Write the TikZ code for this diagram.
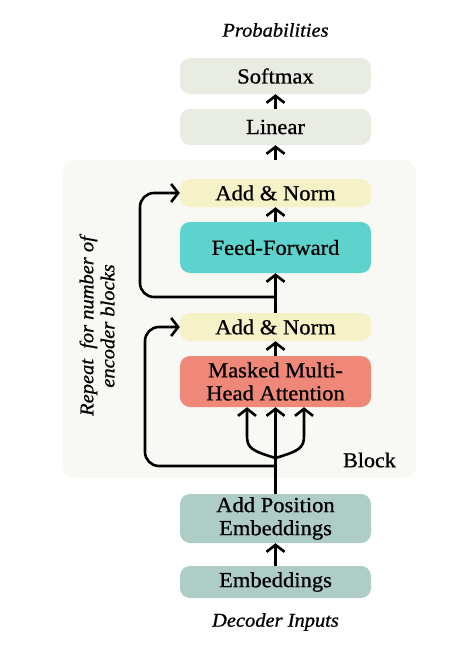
\documentclass[tikz,border=0pt]{standalone}
\usepackage{fontspec}
\setmainfont{Liberation Serif}[FakeStretch=1.05,FakeBold=0.8]
\usetikzlibrary{arrows.meta}
\definecolor{cgrey}{HTML}{E9ECE3}
\definecolor{cyel}{HTML}{F5F2C8}
\definecolor{cteal}{HTML}{5ED3CE}
\definecolor{csal}{HTML}{F0887A}
\definecolor{cemb}{HTML}{AECDC6}
\definecolor{cblock}{HTML}{F8F8F4}
\tikzset{
  box/.style={rounded corners=10pt, minimum width=191pt, inner sep=0pt, align=center, font=\fontsize{21.5}{25}\selectfont, text=black},
  lbl/.style={font=\fontsize{19.5}{21}\selectfont\itshape, text=black},
  arr/.style={line width=2.6pt, -{Straight Barb[length=7pt,width=18pt]}},
}
\begin{document}
\begin{tikzpicture}[x=1pt,y=-1pt]
\path[use as bounding box, fill=white] (0,0) rectangle (463,645);
\node[fill=cblock, rounded corners=12pt, minimum width=353pt, minimum height=318pt] (block) at (239.5,319) {};
\node[box, fill=cgrey, minimum height=36pt] (softmax) at (275.5,76) {Softmax};
\node[box, fill=cgrey, minimum height=36pt] (linear) at (275.5,127) {Linear};
\node[box, fill=cyel, minimum height=28pt] (an1) at (275.5,193) {Add \& Norm};
\node[box, fill=cteal, minimum height=51pt] (ff) at (275.5,247.5) {Feed-Forward};
\node[box, fill=cyel, minimum height=28pt] (an2) at (275.5,327) {Add \& Norm};
\node[box, fill=csal, minimum height=51pt, font=\fontsize{21.5}{23}\selectfont] (mha) at (275.5,381.5) {Masked Multi-\\Head Attention};
\node[box, fill=cemb, minimum height=49pt, font=\fontsize{21.5}{23}\selectfont] (addpos) at (275.5,518.5) {Add Position\\Embeddings};
\node[box, fill=cemb, minimum height=32pt] (emb) at (275.5,582) {Embeddings};
\node[lbl] (prob) at (275.5,30) {Probabilities};
\node[lbl] (dec) at (275.5,622) {Decoder Inputs};
\node[font=\fontsize{21}{24}\selectfont] (blk) at (369.5,460) {Block};
\node[lbl, rotate=90, align=center, font=\fontsize{19.5}{21}\selectfont\itshape] (rep) at (97,326) {Repeat\ \ for number of\\encoder blocks};
% connectors
\draw[arr] (linear.south |- block.north) -- (linear.south);
\draw[arr] (linear.north) -- (softmax.south);
\draw[arr] (ff.north) -- (an1.south);
\draw[arr] (an2.north) -- (ff.south);
\coordinate (b1) at (275.5,297);
\draw[arr, rounded corners=14pt] (b1) -- (140,297) -- (140,193) -- (an1.west);
\draw[arr] (mha.north) -- (an2.south);
\draw[arr] (addpos.north) -- (mha.south);
\coordinate (b2) at (275.5,466);
\draw[arr, rounded corners=14pt] (b2) -- (145,466) -- (145,327) -- (an2.west);
\coordinate (sp) at (275.5,458);
\draw[arr] (sp) .. controls (252,451) and (247,448) .. (247,436) -- (mha.south -| 247,0);
\draw[arr] (sp) .. controls (299,451) and (304,448) .. (304,436) -- (mha.south -| 304,0);
\draw[arr] (emb.north) -- (addpos.south);
\end{tikzpicture}
\end{document}
